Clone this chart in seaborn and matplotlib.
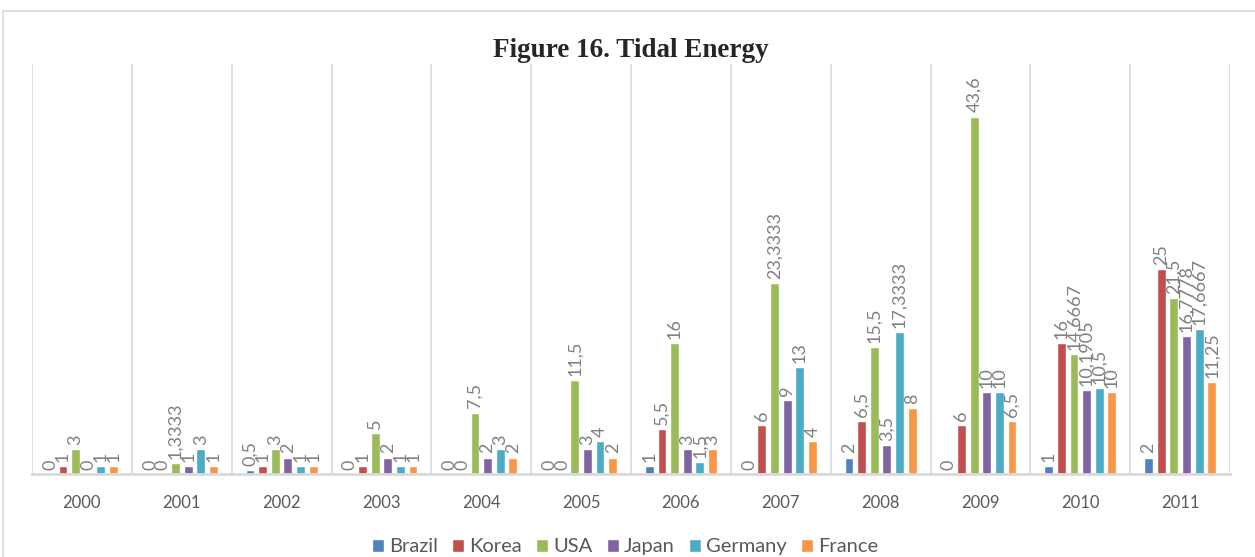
import matplotlib
matplotlib.use("Agg")
import matplotlib.pyplot as plt
import pandas as pd
import seaborn as sns
from matplotlib.patches import Rectangle

years = ["2000", "2001", "2002", "2003", "2004", "2005",
         "2006", "2007", "2008", "2009", "2010", "2011"]
countries = ["Brazil", "Korea", "USA", "Japan", "Germany", "France"]

brazil = [0, 0, 0.5, 0, 0, 0, 1, 0, 2, 0, 1, 2]
korea = [1, 0, 1, 1, 0, 0, 5.5, 6, 6.5, 6, 16, 25]
usa = [3, 1.3333, 3, 5, 7.5, 11.5, 16, 23.3333, 15.5, 43.6, 14.6667, 21.5]
japan = [0, 1, 2, 2, 2, 3, 3, 9, 3.5, 10, 10.1905, 16.7778]
germany = [1, 3, 1, 1, 3, 4, 1.5, 13, 17.3333, 10, 10.5, 17.6667]
france = [1, 1, 1, 1, 2, 2, 3, 4, 8, 6.5, 10, 11.25]

colors = ["#4F81BD", "#C0504D", "#9BBB59", "#8064A2", "#4BACC6", "#F79646"]

series = [brazil, korea, usa, japan, germany, france]
rows = []
for name, vals in zip(countries, series):
    for y, v in zip(years, vals):
        rows.append({"year": y, "country": name, "value": v})
df = pd.DataFrame(rows)

sns.set_style("white")
plt.rcParams["font.family"] = ["Lato", "DejaVu Sans"]

fig = plt.figure(figsize=(12.55, 5.57), dpi=100)
ax = fig.add_axes([0.0255, 0.149, 0.9546, 0.736])

sns.barplot(data=df, x="year", y="value", hue="country", order=years,
            hue_order=countries, palette=colors, width=0.76, gap=0.3,
            ax=ax, legend=True, saturation=1)

# data labels, comma as decimal mark like the source
for cont, vals in zip(ax.containers, series):
    labels = [f"{v:g}".replace(".", ",") for v in vals]
    ax.bar_label(cont, labels=labels, rotation=90, padding=3,
                 fontsize=13, color="#808080")

ax.set_xlim(-0.5, 11.5)
ax.set_ylim(0, 50)
ax.set_yticks([])
ax.set_xlabel("")
ax.set_ylabel("")
for x in range(13):
    ax.axvline(x - 0.5, color="#d9d9d9", lw=1.2, zorder=0)
for s in ["top", "left", "right"]:
    ax.spines[s].set_visible(False)
ax.spines["bottom"].set_color("#d9d9d9")
ax.spines["bottom"].set_linewidth(2)
ax.tick_params(axis="x", length=0, pad=15, labelsize=12, colors="#595959")

ax.legend(loc="upper center", bbox_to_anchor=(0.495, -0.113), ncol=6,
          frameon=False, fontsize=14.5, handlelength=0.6, handleheight=0.6,
          handletextpad=0.25, columnspacing=0.7, labelcolor="#595959")

fig.text(0.503, 0.91, "Figure 16. Tidal Energy", ha="center", va="center",
         fontsize=19.5, fontweight="bold", family="Liberation Serif")

fig.patches.append(Rectangle((0.0025, -0.01), 1.1, 0.99, transform=fig.transFigure,
                             fill=False, edgecolor="#d9d9d9", lw=1.2))

fig.savefig("out.png", dpi=100)
